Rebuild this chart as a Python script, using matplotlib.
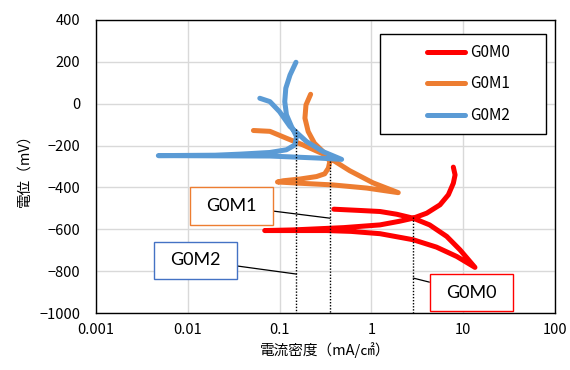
import matplotlib
matplotlib.use('Agg')
import matplotlib.pyplot as plt
from matplotlib.offsetbox import DrawingArea, AnnotationBbox
from matplotlib.text import Text
from matplotlib.patches import Rectangle
from matplotlib.ticker import FixedLocator, FixedFormatter, NullLocator

plt.rcParams['font.family'] = ['Noto Sans CJK JP', 'DejaVu Sans']

# ---- data ----
series_names = ['G0M0', 'G0M1', 'G0M2']
series_colors = ['#FF0000', '#ED7D31', '#5B9BD5']
box_colors = ['#FF0000', '#ED7D31', '#4472C4']

g0m0_i = [0.39, 0.75, 1.24, 1.88, 2.85, 4.3, 6.6, 9.2, 13.4,
          8.5, 5.1, 2.85, 1.24, 0.6, 0.325, 0.069,
          0.14, 0.5, 1.24, 2.0, 2.85, 4.0, 5.58, 6.88, 7.79, 8.14, 7.79]
g0m0_e = [-504, -510, -515, -528, -547, -579, -634, -698, -782,
          -730, -685, -650, -621, -610, -606, -606,
          -603, -592, -579, -562, -547, -523, -483, -435, -380, -340, -303]

g0m1_i = [0.052, 0.0786, 0.119, 0.18, 0.298, 0.58, 1.04, 1.96,
          0.89, 0.38, 0.167, 0.095,
          0.11, 0.166, 0.253, 0.31, 0.34, 0.353, 0.298, 0.24, 0.205, 0.189, 0.194, 0.218]
g0m1_e = [-128, -132, -165, -197, -240, -320, -378, -425,
          -403, -388, -380, -374,
          -368, -360, -348, -335, -308, -276, -229, -189, -133, -69, -6, 45]

g0m2_i = [0.061, 0.0786, 0.1, 0.13, 0.197, 0.298, 0.474,
          0.275, 0.0786, 0.02, 0.0048,
          0.02, 0.037, 0.0786, 0.119, 0.147, 0.153, 0.135, 0.119, 0.114, 0.117, 0.130, 0.151]
g0m2_e = [26, 10, -38, -109, -181, -229, -266,
          -260, -250, -249, -248,
          -246, -241, -233, -220, -197, -157, -109, -53, 10, 74, 137, 198]

# corrosion current markers (dotted lines) and label boxes
icorr = [2.85, 0.355, 0.153]
ecorr = [-539, -276, -122]
leader_e = [-833, -547, -814]
label_box_i = [12.3, 0.0299, 0.01213]
label_box_e = [-903, -488, -748]

x_ticks = [0.001, 0.01, 0.1, 1, 10, 100]
x_tick_labels = ['0.001', '0.01', '0.1', '1', '10', '100']
y_ticks = [-1000, -800, -600, -400, -200, 0, 200, 400]

# ---- figure ----
fig = plt.figure(figsize=(5.7, 3.7), dpi=100)
ax = fig.add_axes([0.168, 0.154, 0.806, 0.792])

ax.set_xscale('log')
ax.set_xlim(0.001, 100)
ax.set_ylim(-1000, 400)

ax.xaxis.set_major_locator(FixedLocator(x_ticks))
ax.xaxis.set_major_formatter(FixedFormatter(x_tick_labels))
ax.xaxis.set_minor_locator(NullLocator())
ax.set_yticks(y_ticks)

ax.grid(True, which='major', color='#D9D9D9', linewidth=1.0)
ax.set_axisbelow(True)
for s in ax.spines.values():
    s.set_color('black')
    s.set_linewidth(1.0)
ax.tick_params(axis='both', length=0, labelsize=10.5, colors='black')
ax.tick_params(axis='y', pad=11)
ax.tick_params(axis='x', pad=7)

data = [(g0m0_i, g0m0_e), (g0m1_i, g0m1_e), (g0m2_i, g0m2_e)]
lines = []
for (xi, ye), name, col in zip(data, series_names, series_colors):
    ln, = ax.plot(xi, ye, color=col, linewidth=3.6, solid_capstyle='round',
                  solid_joinstyle='round', label=name)
    lines.append(ln)

for xv, yv in zip(icorr, ecorr):
    ax.plot([xv, xv], [yv, -1000], color='black', linestyle=(0, (1, 1.2)),
            linewidth=1.0, zorder=4)

# label boxes with leader lines
for name, bc, xv, yl, bx, by in zip(series_names, box_colors, icorr, leader_e,
                                    label_box_i, label_box_e):
    da = DrawingArea(60, 27, 0, 0)
    da.add_artist(Text(30, 13.5, name, ha='center', va='center', fontsize=13,
                       family=['Lato', 'DejaVu Sans'], color='black'))
    ab = AnnotationBbox(da, (xv, yl), xybox=(bx, by), xycoords='data',
                        boxcoords='data', pad=0.0, frameon=True,
                        bboxprops=dict(edgecolor=bc, facecolor='white', linewidth=1.0,
                                       boxstyle='square,pad=0'),
                        arrowprops=dict(arrowstyle='-', color='black', linewidth=0.9,
                                        shrinkA=0, shrinkB=0))
    ab.set_zorder(5)
    ax.add_artist(ab)

ax.set_xlabel('電流密度（mA/㎠）', fontsize=10.5, labelpad=4)
ax.set_ylabel('電位（mV）', fontsize=10.5, labelpad=6)

# legend
ax.add_patch(Rectangle((0.619, 0.611), 0.361, 0.341, transform=ax.transAxes,
                       facecolor='white', edgecolor='black', linewidth=1.0, zorder=6))
leg = ax.legend(handles=lines, loc='center left', bbox_to_anchor=(0.721, 0.782),
                frameon=False, fontsize=11, handlelength=2.5, handletextpad=0.35,
                labelspacing=0.95, borderpad=0, borderaxespad=0)
leg.set_zorder(7)
for h in leg.get_lines():
    h.set_linewidth(3.6)

fig.savefig('out.png', dpi=100)
